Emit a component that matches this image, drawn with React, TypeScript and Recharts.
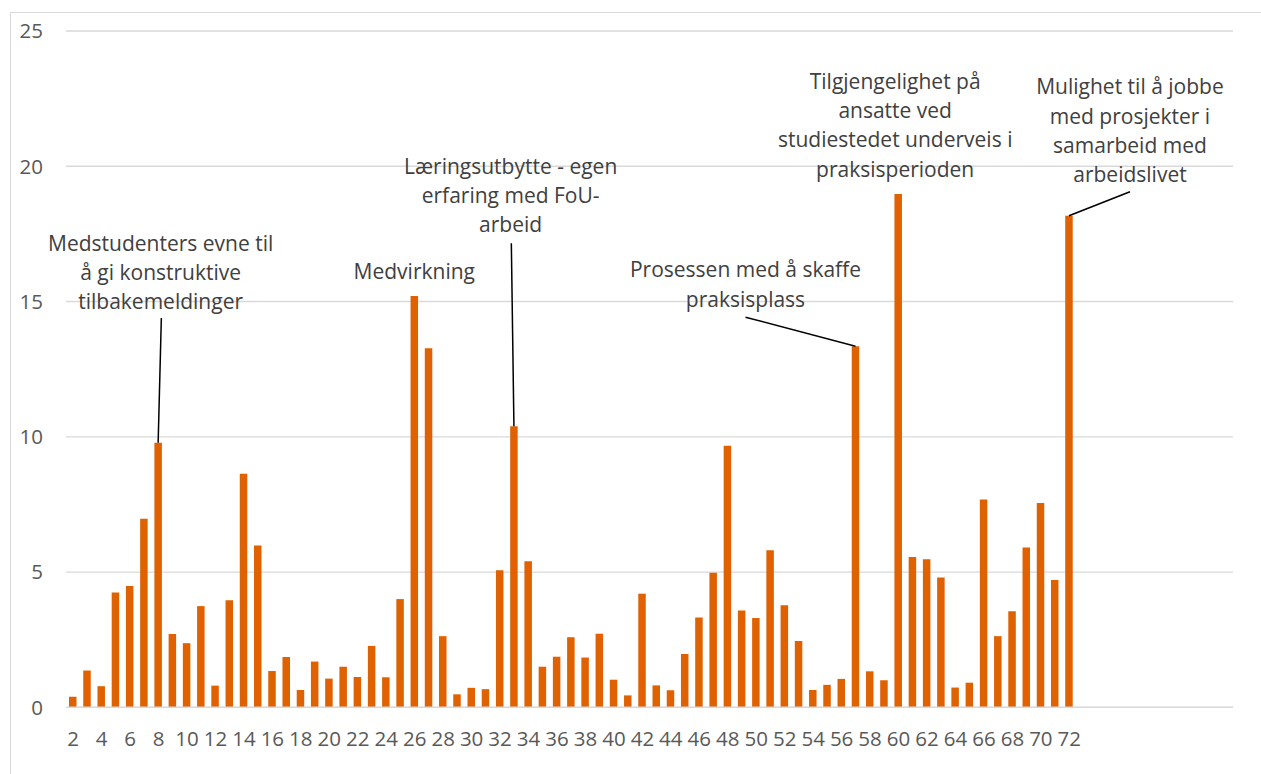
import { BarChart, Bar, XAxis, YAxis, CartesianGrid, LabelList } from "recharts";

// survey item numbers along the x axis
const categories = [
  "2", "3", "4", "5", "6", "7", "8", "9", "10", "11", "12", "13", "14", "15", "16", "17",
  "18", "19", "20", "21", "22", "23", "24", "25", "26", "27", "28", "29", "30", "31", "32",
  "33", "34", "35", "36", "37", "38", "39", "40", "41", "42", "43", "44", "45", "46", "47",
  "48", "49", "50", "51", "52", "53", "54", "55", "56", "57", "58", "59", "60", "61", "62",
  "63", "64", "65", "66", "67", "68", "69", "70", "71", "72",
];

const values = [
  0.39, 1.36, 0.78, 4.24, 4.48, 6.97, 9.78, 2.71, 2.37, 3.74, 0.8, 3.96, 8.63, 5.98, 1.34, 1.86,
  0.64, 1.69, 1.06, 1.5, 1.12, 2.27, 1.11, 4.0, 15.2, 13.27, 2.63, 0.48, 0.72, 0.67, 5.07,
  10.39, 5.4, 1.5, 1.87, 2.59, 1.84, 2.72, 1.02, 0.44, 4.2, 0.81, 0.63, 1.97, 3.32, 4.97,
  9.67, 3.58, 3.3, 5.81, 3.77, 2.45, 0.64, 0.83, 1.05, 13.35, 1.33, 1.0, 18.97, 5.56, 5.47,
  4.8, 0.73, 0.91, 7.68, 2.63, 3.55, 5.91, 7.55, 4.71, 18.17,
];

// empty slots kept at the end of the category range
const emptySlots = 11;

const yTicks = [0, 5, 10, 15, 20, 25];

// callout texts, keyed by category
const noteCats = ["8", "26", "33", "57", "60", "72"];
const noteLines = [
  ["Medstudenters evne til", "å gi konstruktive", "tilbakemeldinger"],
  ["Medvirkning"],
  ["Læringsutbytte - egen", "erfaring med FoU-", "arbeid"],
  ["Prosessen med å skaffe", "praksisplass"],
  ["Tilgjengelighet på", "ansatte ved", "studiestedet underveis i", "praksisperioden"],
  ["Mulighet til å jobbe", "med prosjekter i", "samarbeid med", "arbeidslivet"],
];

// callout placement relative to the bar top: text centre offset and leader start
const noteLayout = [
  { dx: 2.5, dy: -200, lead: [3.2, -124.7] },
  { dx: 0, dy: -25, lead: null },
  { dx: -3.3, dy: -260.4, lead: [-2.6, -183] },
  { dx: -110, dy: -76.7, lead: [-110, -29] },
  { dx: -3, dy: -113.3, lead: null },
  { dx: 61, dy: -129.5, lead: [61, -24] },
];

const FONT = "'Open Sans', sans-serif";
const LINE_H = 29.3;

const slots = categories.length + emptySlots;
const data = Array.from({ length: slots }, (_, i) => ({
  slot: i,
  label: i < categories.length ? categories[i] : "",
  value: i < values.length ? values[i] : null,
}));

function Callout(props: any) {
  const { x, y, width, index } = props;
  const cat = data[index]?.label;
  const n = noteCats.indexOf(cat);
  if (n < 0 || y == null) return null;
  const cx = x + width / 2;
  const lay = noteLayout[n];
  const tx = cx + lay.dx;
  return (
    <g>
      {lay.lead && (
        <line
          x1={cx + lay.lead[0]}
          y1={y + lay.lead[1]}
          x2={cx}
          y2={y}
          stroke="#000"
          strokeWidth={1.5}
        />
      )}
      {noteLines[n].map((t, k) => (
        <text
          key={k}
          x={tx}
          y={y + lay.dy + k * LINE_H}
          textAnchor="middle"
          dominantBaseline="central"
          fill="#404040"
          fontSize={21}
          fontFamily={FONT}
        >
          {t}
        </text>
      ))}
    </g>
  );
}

export default function App() {
  return (
    <div
      style={{
        position: "absolute",
        left: 0,
        top: 0,
        width: 1261,
        height: 774,
        background: "#fff",
        overflow: "hidden",
      }}
    >
      <div
        style={{
          position: "absolute",
          left: 10,
          top: 12,
          right: 0,
          bottom: 0,
          borderLeft: "1px solid #d9d9d9",
          borderTop: "1px solid #d9d9d9",
        }}
      />
      <div style={{ position: "absolute", left: 0, top: 0 }}>
        <BarChart
          width={1261}
          height={774}
          data={data}
          margin={{ top: 31, right: 28, left: 0, bottom: 0 }}
        >
          <CartesianGrid vertical={false} stroke="#d9d9d9" strokeWidth={1.3} />
          <XAxis
            dataKey="slot"
            height={66.7}
            interval={1}
            tickFormatter={(v: number) => data[v]?.label ?? ""}
            axisLine={{ stroke: "#d9d9d9", strokeWidth: 1.5 }}
            tickLine={false}
            tickMargin={18.5}
            tick={{ fill: "#595959", fontSize: 20.5, fontFamily: FONT }}
          />
          <YAxis
            width={66}
            domain={[0, 25]}
            ticks={yTicks}
            axisLine={false}
            tickLine={false}
            tickMargin={17}
            tick={{ fill: "#595959", fontSize: 20.5, fontFamily: FONT }}
          />
          <Bar dataKey="value" fill="#DF6100" barSize={7.5} isAnimationActive={false}>
            <LabelList dataKey="value" content={Callout} />
          </Bar>
        </BarChart>
      </div>
    </div>
  );
}
